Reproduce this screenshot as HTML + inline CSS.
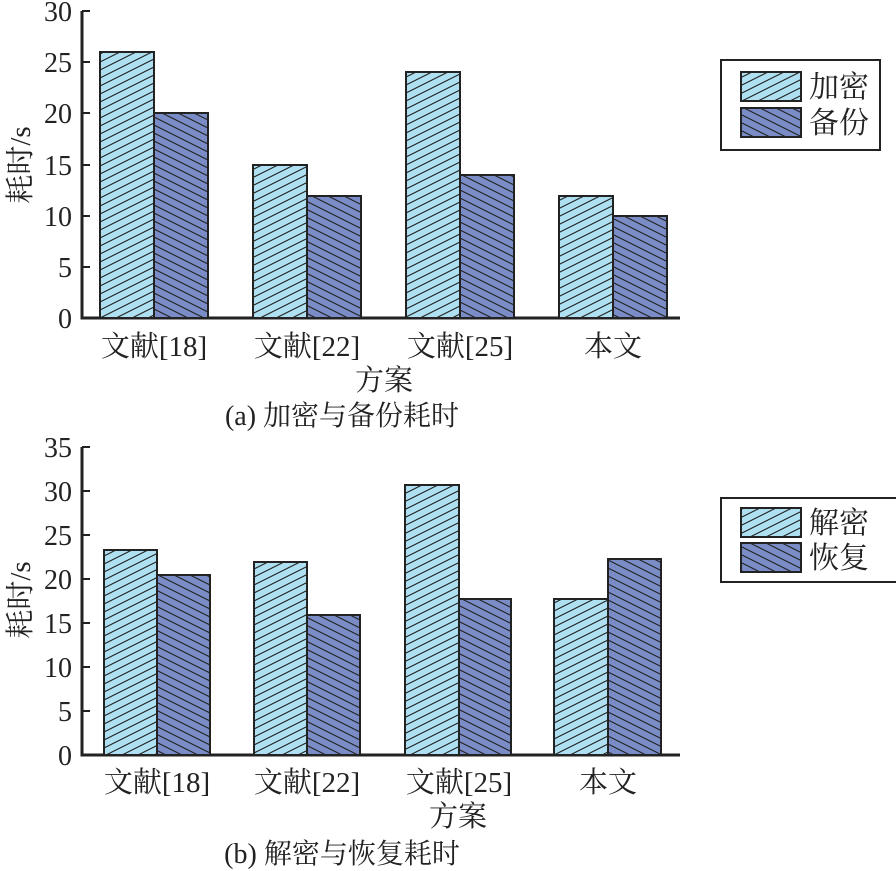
<!DOCTYPE html><html><head><meta charset="utf-8"><style>body{margin:0;background:#fff}svg{display:block}text{font-family:"Liberation Serif","DejaVu Serif","Noto Serif CJK SC",serif;fill:#222}</style></head><body>
<svg width="896" height="871" viewBox="0 0 896 871">
<defs>
<pattern id="pl" patternUnits="userSpaceOnUse" width="16" height="8"><rect width="16" height="8" fill="#aee0f2"/><path d="M-16,8 L16,-8 M0,8 L16,0 M0,16 L32,0" stroke="#222" stroke-width="1.1"/></pattern>
<pattern id="pd" patternUnits="userSpaceOnUse" width="16" height="8"><rect width="16" height="8" fill="#7a8cc6"/><path d="M-16,0 L16,16 M0,0 L16,8 M0,-8 L32,8" stroke="#222" stroke-width="1.1"/></pattern>
</defs>
<g stroke="#222" stroke-width="2">
<path d="M82,11 V318 H680" fill="none" stroke-width="3"/>
<path d="M82,11h8M82,62h8M82,113h8M82,165h8M82,216h8M82,267h8"/>
<rect x="100" y="52" width="54" height="266" fill="url(#pl)"/>
<rect x="154" y="113" width="54" height="205" fill="url(#pd)"/>
<rect x="253" y="165" width="54" height="153" fill="url(#pl)"/>
<rect x="307" y="196" width="54" height="122" fill="url(#pd)"/>
<rect x="406" y="72" width="54" height="246" fill="url(#pl)"/>
<rect x="460" y="175" width="54" height="143" fill="url(#pd)"/>
<rect x="559" y="196" width="54" height="122" fill="url(#pl)"/>
<rect x="613" y="216" width="54" height="102" fill="url(#pd)"/>
<rect x="721" y="60" width="159" height="90" fill="#fff"/>
<rect x="741" y="72" width="60" height="29" fill="url(#pl)"/>
<rect x="741" y="108" width="60" height="29" fill="url(#pd)"/>
<path d="M82,447 V755 H680" fill="none" stroke-width="3"/>
<path d="M82,447h8M82,491h8M82,535h8M82,579h8M82,623h8M82,667h8M82,711h8"/>
<rect x="104" y="550" width="53" height="205" fill="url(#pl)"/>
<rect x="157" y="575" width="53" height="180" fill="url(#pd)"/>
<rect x="254" y="562" width="53" height="193" fill="url(#pl)"/>
<rect x="307" y="615" width="53" height="140" fill="url(#pd)"/>
<rect x="405" y="485" width="54" height="270" fill="url(#pl)"/>
<rect x="459" y="599" width="52" height="156" fill="url(#pd)"/>
<rect x="554" y="599" width="54" height="156" fill="url(#pl)"/>
<rect x="608" y="559" width="53" height="196" fill="url(#pd)"/>
<rect x="721" y="498" width="180" height="84" fill="#fff"/>
<rect x="741" y="508" width="60" height="29" fill="url(#pl)"/>
<rect x="741" y="543" width="60" height="29" fill="url(#pd)"/>
</g>
<g font-size="28" text-anchor="end">
<text x="72" y="21">30</text><text x="72" y="72">25</text><text x="72" y="123">20</text><text x="72" y="175">15</text><text x="72" y="226">10</text><text x="72" y="277">5</text><text x="72" y="328">0</text>
<text x="72" y="457">35</text><text x="72" y="501">30</text><text x="72" y="545">25</text><text x="72" y="589">20</text><text x="72" y="633">15</text><text x="72" y="677">10</text><text x="72" y="721">5</text><text x="72" y="765">0</text>
</g>
<g font-size="29" text-anchor="middle">
<text x="154" y="356">文献[18]</text><text x="307" y="356">文献[22]</text><text x="460" y="356">文献[25]</text><text x="613" y="356">本文</text>
<text x="384" y="390">方案</text>
<text x="342" y="425" font-size="28">(a) 加密与备份耗时</text>
<text x="157" y="792">文献[18]</text><text x="307" y="792">文献[22]</text><text x="459" y="792">文献[25]</text><text x="608" y="792">本文</text>
<text x="458" y="826">方案</text>
<text x="342" y="863" font-size="28">(b) 解密与恢复耗时</text>
<text transform="translate(30,165) rotate(-90)">耗时/s</text>
<text transform="translate(30,600) rotate(-90)">耗时/s</text>
</g>
<g font-size="30">
<text x="809" y="97">加密</text><text x="809" y="133">备份</text>
<text x="809" y="533">解密</text><text x="809" y="568">恢复</text>
</g>
</svg></body></html>
